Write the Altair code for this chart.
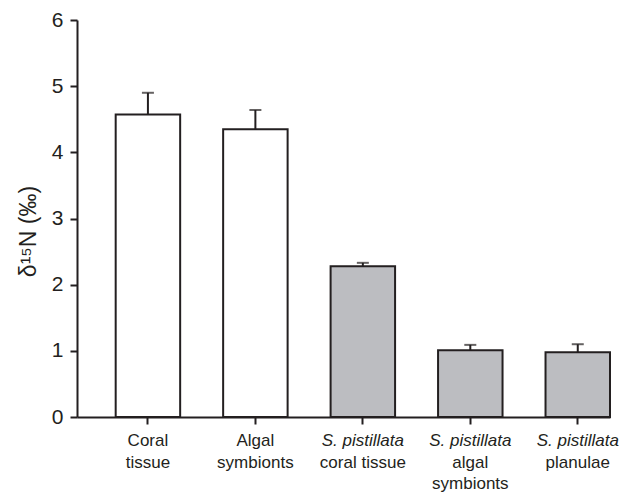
import altair as alt
import pandas as pd

# Sample groups (x axis) and their δ15N means with standard errors
categories = [
    "Coral tissue",
    "Algal symbionts",
    "S. pistillata coral tissue",
    "S. pistillata algal symbionts",
    "S. pistillata planulae",
]
groups = ["community", "community", "S. pistillata", "S. pistillata", "S. pistillata"]
means = [4.57, 4.35, 2.28, 1.01, 0.98]
errors = [0.33, 0.29, 0.05, 0.08, 0.12]

# Axis label lines for each group; the species name is set in italics
label_lines = [
    ["Coral", "tissue"],
    ["Algal", "symbionts"],
    ["S. pistillata", "coral tissue"],
    ["S. pistillata", "algal", "symbionts"],
    ["S. pistillata", "planulae"],
]
y_ticks = [0, 1, 2, 3, 4, 5, 6]

INK = "#231f20"
FONT = "Liberation Sans"

df = pd.DataFrame({
    "category": categories,
    "group": groups,
    "mean": means,
    "err": errors,
})
df["upper"] = df["mean"] + df["err"]

label_rows = []
for cat, lines in zip(categories, label_lines):
    for i, line in enumerate(lines):
        label_rows.append({
            "category": cat,
            "line": i,
            "text": line,
            "italic": line.startswith("S. "),
        })
labels = pd.DataFrame(label_rows)

x_scale = alt.Scale(paddingInner=0.4, paddingOuter=0.18, align=1)
x_enc = alt.X("category:N", sort=categories, scale=x_scale, title=None,
              axis=alt.Axis(labels=False, ticks=True, tickSize=7, tickWidth=2,
                            tickColor=INK, domainColor=INK, domainWidth=2,
                            grid=False))

y_enc = alt.Y("mean:Q", scale=alt.Scale(domain=[0, 6], nice=False),
              title="δ¹⁵N (‰)",
              axis=alt.Axis(values=y_ticks, format="d", tickSize=7, tickWidth=2,
                            tickColor=INK, domainColor=INK, domainWidth=2, grid=False,
                            labelFont=FONT, labelFontSize=21, labelColor=INK,
                            labelPadding=7, titleFont=FONT, titleFontSize=23,
                            titleFontWeight="normal", titleColor=INK,
                            titlePadding=11, titleY=211))

base = alt.Chart(df)

bars = base.mark_bar(stroke=INK, strokeWidth=2).encode(
    x=x_enc,
    y=y_enc,
    fill=alt.Fill("group:N", scale=alt.Scale(domain=["community", "S. pistillata"],
                                             range=["#ffffff", "#bcbdc1"]),
                  legend=None),
)

err_rule = base.mark_rule(color=INK, strokeWidth=2).encode(
    x=alt.X("category:N", sort=categories),
    y="mean:Q",
    y2="upper:Q",
)

caps = base.mark_tick(color=INK, thickness=2, size=12, orient="horizontal").encode(
    x=alt.X("category:N", sort=categories),
    y="upper:Q",
)

plot = alt.layer(bars, err_rule, caps)

line_y = alt.Y("line:Q", scale=alt.Scale(domain=[0, 2], range=[426, 469]), axis=None)

labels_plain = alt.Chart(labels).transform_filter("!datum.italic").mark_text(
    font=FONT, fontSize=17, color=INK, baseline="alphabetic", align="center"
).encode(
    x=alt.X("category:N", sort=categories),
    y=line_y,
    text="text:N",
)

labels_italic = alt.Chart(labels).transform_filter("datum.italic").mark_text(
    font=FONT, fontSize=17, fontStyle="italic", color=INK, baseline="alphabetic",
    align="center"
).encode(
    x=alt.X("category:N", sort=categories),
    y=line_y,
    text="text:N",
)

chart = alt.layer(plot, labels_plain, labels_italic).resolve_scale(
    y="independent"
).properties(
    width=533,
    height=397,
    autosize=alt.AutoSizeParams(type="none"),
    padding={"left": 77, "top": 20, "right": 18, "bottom": 75},
    background="white",
).configure_view(stroke=None)

chart.save("out.html", embed_options={"renderer": "svg", "actions": False})
